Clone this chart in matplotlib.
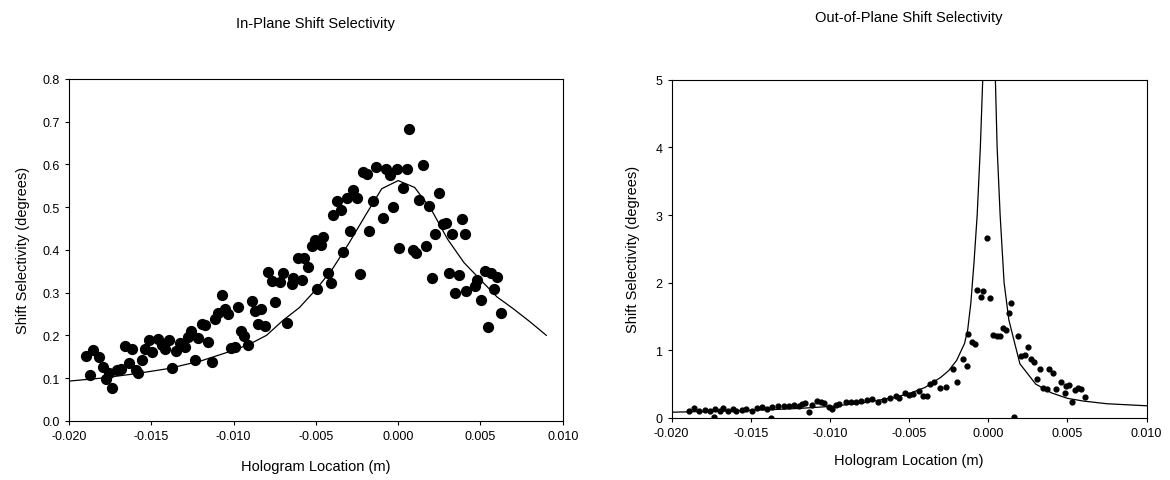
import matplotlib
matplotlib.use("Agg")
import matplotlib.pyplot as plt
import numpy as np
from matplotlib.ticker import FormatStrFormatter, MultipleLocator

plt.rcParams['font.family'] = ['Liberation Sans', 'DejaVu Sans']
plt.rcParams['axes.unicode_minus'] = False

# ---- in-plane data ----
inplane_x = [
    -0.01896, -0.01875, -0.01853, -0.01819, -0.01792, -0.01778, -0.01755, -0.01737,
    -0.01710, -0.01683, -0.01660, -0.01638, -0.01620, -0.01592, -0.01579, -0.01556,
    -0.01540, -0.01515, -0.01497, -0.01457, -0.01434, -0.01416, -0.01393, -0.01375,
    -0.01352, -0.01325, -0.01293, -0.01275, -0.01257, -0.01235, -0.01216, -0.01194,
    -0.01171, -0.01153, -0.01130, -0.01112, -0.01094, -0.01072, -0.01053, -0.01035,
    -0.01013, -0.00990, -0.00972, -0.00954, -0.00936, -0.00913, -0.00890, -0.00872,
    -0.00850, -0.00831, -0.00809, -0.00791, -0.00768, -0.00750,
    0.00067, -0.00213, -0.00188, -0.00132, -0.00075, -0.00051, -0.00010, 0.00051,
    0.00148, 0.00030, 0.00249, -0.00273, -0.00314, -0.00249, -0.00370, -0.00350,
    -0.00395, -0.00152, -0.00030, -0.00091, 0.00128, 0.00188, 0.00273, 0.00289,
    0.00385, 0.00225, 0.00326, 0.00405, -0.00293, -0.00176, -0.00455, -0.00506,
    -0.00526, -0.00472, 0.00006, 0.00087, 0.00107, 0.00166, -0.00607, -0.00571,
    -0.00546, -0.00334, -0.00698, -0.00719, -0.00638, -0.00587, -0.00648, -0.00429,
    -0.00409, -0.00233, -0.00492, 0.00208, 0.00310, 0.00370, 0.00344, 0.00415,
    -0.00674,
    0.00464, 0.00480, 0.00502, 0.00525, 0.00548, 0.00563, 0.00582, 0.00600, 0.00622,
]
inplane_y = [
    0.151, 0.107, 0.165, 0.150, 0.126, 0.097, 0.112, 0.077,
    0.119, 0.122, 0.174, 0.136, 0.168, 0.120, 0.112, 0.143,
    0.168, 0.190, 0.160, 0.191, 0.178, 0.167, 0.188, 0.123,
    0.164, 0.181, 0.173, 0.196, 0.209, 0.143, 0.194, 0.227,
    0.225, 0.184, 0.137, 0.238, 0.252, 0.294, 0.261, 0.250,
    0.170, 0.173, 0.266, 0.209, 0.199, 0.178, 0.280, 0.257,
    0.227, 0.261, 0.221, 0.349, 0.328, 0.279,
    0.683, 0.582, 0.578, 0.593, 0.589, 0.574, 0.588, 0.589,
    0.599, 0.545, 0.533, 0.540, 0.521, 0.521, 0.515, 0.493,
    0.482, 0.515, 0.500, 0.475, 0.517, 0.502, 0.461, 0.462,
    0.472, 0.436, 0.436, 0.436, 0.443, 0.443, 0.429, 0.424,
    0.410, 0.412, 0.404, 0.400, 0.393, 0.410, 0.380, 0.381,
    0.361, 0.396, 0.346, 0.324, 0.333, 0.329, 0.320, 0.346,
    0.322, 0.344, 0.308, 0.333, 0.346, 0.340, 0.300, 0.304,
    0.230,
    0.316, 0.330, 0.283, 0.351, 0.219, 0.345, 0.308, 0.336, 0.253,
]
inplane_fit_x = [-0.020, -0.018, -0.016, -0.014, -0.012, -0.010, -0.009, -0.008,
                 -0.007, -0.006, -0.005, -0.004, -0.003, -0.002, -0.001, 0.000,
                 0.001, 0.002, 0.003, 0.004, 0.005, 0.006, 0.007, 0.008, 0.009]
inplane_fit_y = [0.093, 0.100, 0.110, 0.122, 0.140, 0.165, 0.180, 0.200,
                 0.235, 0.265, 0.307, 0.355, 0.415, 0.480, 0.543, 0.562,
                 0.546, 0.495, 0.425, 0.370, 0.330, 0.290, 0.262, 0.232, 0.200]

# ---- out-of-plane data ----
outplane_x = [
    -0.01887, -0.01856, -0.01824, -0.01792, -0.01760, -0.01728, -0.01696, -0.01675,
    -0.01643, -0.01611, -0.01590, -0.01558, -0.01527, -0.01495, -0.01463, -0.01431,
    -0.01399, -0.01367, -0.01325, -0.01293, -0.01261, -0.01229, -0.01197, -0.01176,
    -0.01155, -0.01130, -0.01113, -0.01081, -0.01059, -0.01038, -0.01006, -0.00985,
    -0.00964, -0.00943, -0.00900, -0.00868, -0.00837, -0.01732, -0.01372,
    -0.00805, -0.00768, -0.00732, -0.00695, -0.00659, -0.00622, -0.00585, -0.00561,
    -0.00524, -0.00500, -0.00476, -0.00439, -0.00415, -0.00390, -0.00366, -0.00341,
    -0.00305, -0.00268, -0.00220, -0.00195, -0.00159, -0.00134,
    -0.00006, -0.00073, -0.00031, -0.00048, 0.00010, 0.00146, 0.00131, -0.00125,
    -0.00104, -0.00083, 0.00031, 0.00056, 0.00073, 0.00094, 0.00110, 0.00188,
    0.00250, 0.00208, 0.00229, 0.00271, 0.00292, 0.00329, 0.00385, 0.00410,
    0.00306, 0.00348, 0.00369, 0.00427, 0.00458, 0.00490, 0.00163,
    0.00510, 0.00526, 0.00549, 0.00567, 0.00583, 0.00613, 0.00485,
]
outplane_y = [
    0.108, 0.143, 0.099, 0.123, 0.108, 0.133, 0.099, 0.143,
    0.108, 0.133, 0.108, 0.123, 0.133, 0.108, 0.143, 0.158,
    0.133, 0.158, 0.172, 0.182, 0.172, 0.192, 0.182, 0.207,
    0.222, 0.084, 0.192, 0.256, 0.232, 0.217, 0.158, 0.133,
    0.192, 0.207, 0.232, 0.232, 0.241, 0.010, 0.005,
    0.250, 0.265, 0.280, 0.232, 0.270, 0.300, 0.320, 0.295,
    0.370, 0.345, 0.360, 0.400, 0.320, 0.320, 0.500, 0.527,
    0.438, 0.453, 0.724, 0.537, 0.872, 0.773,
    2.655, 1.892, 1.882, 1.793, 1.768, 1.695, 1.552, 1.241,
    1.118, 1.094, 1.232, 1.207, 1.217, 1.325, 1.300, 1.217,
    1.044, 0.921, 0.936, 0.872, 0.823, 0.724, 0.724, 0.660,
    0.576, 0.438, 0.429, 0.429, 0.527, 0.478, 0.010,
    0.490, 0.230, 0.420, 0.440, 0.430, 0.310, 0.370,
]
outplane_fit_x = [-0.020, -0.018, -0.016, -0.014, -0.012, -0.010, -0.008, -0.006,
                  -0.005, -0.004, -0.003, -0.0025, -0.002, -0.0015, -0.0013, -0.0011,
                  -0.0009, -0.0007, -0.0005, -0.00035, -0.0002, 0.00005, 0.0003,
                  0.00045, 0.00056, 0.00075, 0.0010, 0.0013, 0.0016, 0.0020, 0.0030,
                  0.0040, 0.0050, 0.0060, 0.0075, 0.0100]
outplane_fit_y = [0.085, 0.095, 0.105, 0.120, 0.140, 0.170, 0.220, 0.300,
                  0.360, 0.450, 0.600, 0.700, 0.850, 1.100, 1.300, 1.700,
                  2.300, 3.000, 4.000, 5.000, 7.000, 10.00, 7.000,
                  5.000, 4.000, 3.000, 2.000, 1.450, 1.170, 0.800, 0.500,
                  0.370, 0.290, 0.250, 0.210, 0.180]

fig = plt.figure(figsize=(11.7, 4.81), dpi=100)
ax1 = fig.add_axes([0.059, 0.123, 0.422, 0.711])
ax2 = fig.add_axes([0.574, 0.129, 0.406, 0.703])


def style(ax):
    for sp in ax.spines.values():
        sp.set_linewidth(0.8)
    ax.tick_params(direction='out', length=3, width=0.8, labelsize=9,
                   top=False, right=False)
    ax.xaxis.set_major_locator(MultipleLocator(0.005))
    ax.xaxis.set_major_formatter(FormatStrFormatter('%.3f'))
    ax.set_xlim(-0.020, 0.010)


ax1.plot(inplane_fit_x, inplane_fit_y, color='black', lw=0.9)
ax1.scatter(inplane_x, inplane_y, s=50, color='black', zorder=3)
style(ax1)
ax1.set_ylim(0, 0.8)
ax1.yaxis.set_major_locator(MultipleLocator(0.1))
ax1.yaxis.set_major_formatter(FormatStrFormatter('%.1f'))
ax1.set_title('In-Plane Shift Selectivity', fontsize=10.5, pad=37)
ax1.set_xlabel('Hologram Location (m)', fontsize=10.5, labelpad=12)
ax1.set_ylabel('Shift Selectivity (degrees)', fontsize=10.5, labelpad=9)

ax2.plot(outplane_fit_x, outplane_fit_y, color='black', lw=0.9)
ax2.scatter(outplane_x, outplane_y, s=12, color='black', zorder=3)
style(ax2)
ax2.set_ylim(0, 5)
ax2.yaxis.set_major_locator(MultipleLocator(1))
ax2.set_title('Out-of-Plane Shift Selectivity', fontsize=10.5, pad=42)
ax2.set_xlabel('Hologram Location (m)', fontsize=10.5, labelpad=10)
ax2.set_ylabel('Shift Selectivity (degrees)', fontsize=10.5, labelpad=11)

fig.savefig('out.png', dpi=100)
